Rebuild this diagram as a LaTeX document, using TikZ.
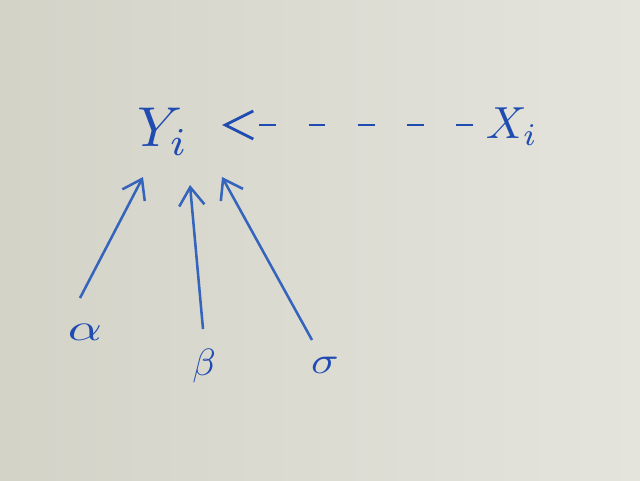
\documentclass[tikz,border=0pt]{standalone}
\usetikzlibrary{positioning}
\usetikzlibrary{arrows.meta}
\usepackage{xcolor}
\definecolor{ink}{RGB}{32,76,178}
\definecolor{pen}{RGB}{52,100,188}
\definecolor{boardL}{RGB}{212,211,200}
\definecolor{boardR}{RGB}{228,228,221}

\tikzset{
  var/.style={text=ink, inner sep=0pt, scale=4},
  greek/.style={text=ink, inner sep=0pt, scale=2.7},
  edge/.style={draw=pen, line width=1.8pt, -{Straight Barb[length=13pt,width=18pt]}},
  dashedge/.style={draw=ink, line width=2pt, dash pattern=on 12pt off 23pt,
    -{Straight Barb[length=20pt,width=20pt]}}
}

\begin{document}
\begin{tikzpicture}[x=1cm,y=1cm]
\shade[left color=boardL, right color=boardR] (0,0) rectangle (16,12);
\useasboundingbox (0,0) rectangle (16,12);

% nodes
\node[var] (Y) at (4.075,8.7) {$Y_i$};
\node[var, scale=0.8] (X) at (12.8,8.825) {$X_i$};

\node[greek, xscale=1.4] (alpha) at (2.125,3.7) {$\alpha$};
\node[greek] (beta) at (5.1,2.85) {$\beta$};
\node[greek, xscale=1.2] (sigma) at (8.125,2.875) {$\sigma$};

% arrows
\draw[dashedge] ([shift={(-0.975,0.05)}]X.center) -- ([shift={(1.475,0.175)}]Y.center);
\draw[edge] ([shift={(-0.125,0.85)}]alpha.center) -- ([shift={(-0.5,-1.125)}]Y.center);
\draw[edge] ([shift={(-0.025,0.925)}]beta.center) -- ([shift={(0.675,-1.325)}]Y.center);
\draw[edge] ([shift={(-0.325,0.625)}]sigma.center) -- ([shift={(1.475,-1.125)}]Y.center);

\end{tikzpicture}
\end{document}
